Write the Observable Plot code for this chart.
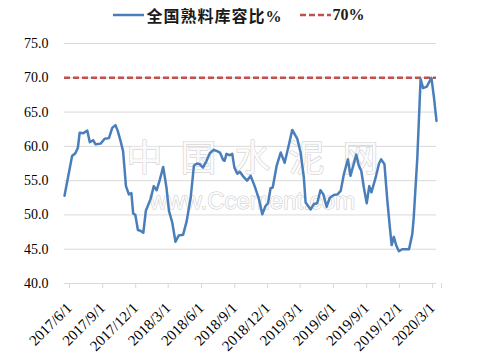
<!DOCTYPE html>
<html><head><meta charset="utf-8">
<script src="https://cdn.jsdelivr.net/npm/d3@7"></script>
<script src="https://cdn.jsdelivr.net/npm/@observablehq/plot@0.6"></script>
<style>
html,body{margin:0;padding:0;background:#fff;}
#legend{height:30px;display:flex;justify-content:center;align-items:center;font:bold 16px "Liberation Serif","Noto Sans CJK SC",serif;color:#1a1a1a;}
.item{display:flex;align-items:center;}
.item svg{margin-right:2px;}
.cn{letter-spacing:1px;}
.gap{width:17px;}
</style></head>
<body>
<div id="legend"></div>
<div id="chart"></div>
<script>
const seriesName = "全国熟料库容比%";
const refName = "70%";
const refValue = 70;
const dates = [
"2017-06-01","2017-06-22","2017-07-01","2017-07-08","2017-07-13","2017-07-23","2017-08-03","2017-08-10","2017-08-19","2017-08-26",
"2017-09-09","2017-09-20","2017-10-02","2017-10-11","2017-10-20","2017-10-26","2017-11-03","2017-11-10","2017-11-18","2017-11-26",
"2017-12-03","2017-12-08","2017-12-14","2017-12-21","2017-12-28","2018-01-05","2018-01-12","2018-01-25","2018-02-03","2018-02-11",
"2018-02-20","2018-03-01","2018-03-10","2018-03-17","2018-03-26","2018-04-04","2018-04-13","2018-04-25","2018-05-05","2018-05-16",
"2018-05-25","2018-06-03","2018-06-10","2018-06-19","2018-06-29","2018-07-08","2018-07-19","2018-07-28","2018-08-05","2018-08-14",
"2018-08-18","2018-08-23","2018-09-01","2018-09-08","2018-09-14","2018-09-22","2018-09-29","2018-10-10","2018-10-19","2018-10-29",
"2018-11-09","2018-11-21","2018-11-30","2018-12-09","2018-12-16","2018-12-23","2018-12-29","2019-01-09","2019-01-20","2019-01-31",
"2019-02-12","2019-02-21","2019-03-07","2019-03-16","2019-03-25","2019-03-30","2019-04-13","2019-04-22","2019-05-01","2019-05-10",
"2019-05-18","2019-05-27","2019-06-05","2019-06-16","2019-06-26","2019-07-05","2019-07-14","2019-07-25","2019-08-01","2019-08-17",
"2019-08-24","2019-08-31","2019-09-07","2019-09-15","2019-09-22","2019-09-28","2019-10-10","2019-10-19","2019-10-25","2019-11-03",
"2019-11-11","2019-11-18","2019-11-23","2019-11-29","2019-12-06","2019-12-13","2019-12-22","2020-01-01","2020-01-10","2020-01-19",
"2020-01-23","2020-02-02","2020-02-11","2020-02-18","2020-02-28","2020-03-05","2020-03-12","2020-03-19","2020-03-26"
];
const values = [
52.8,58.6,59.0,59.8,62.0,61.9,62.3,60.6,60.9,60.3,
60.4,61.1,61.2,62.7,63.1,62.3,60.8,59.3,54.2,53.0,
53.2,50.2,50.0,47.8,47.7,47.4,50.6,52.3,54.2,53.6,
55.2,57.0,54.0,50.6,48.9,46.1,47.0,47.1,49.1,52.5,
57.2,57.5,57.4,56.9,57.9,59.0,59.5,59.3,59.1,58.0,
57.9,58.9,58.7,58.9,56.9,56.0,56.3,55.5,55.0,55.7,
54.2,52.3,50.1,51.3,51.7,53.9,54.0,57.2,59.1,57.6,
60.3,62.4,61.1,59.1,55.5,51.8,50.8,51.6,51.7,53.6,
53.0,51.2,52.5,52.9,53.0,53.5,56.0,58.1,55.7,58.8,
57.2,56.4,54.0,51.7,54.2,53.3,55.5,57.5,58.1,57.4,
52.1,48.2,45.6,46.8,45.5,44.7,45.0,45.0,45.0,47.2,
49.6,58.4,69.8,68.5,68.7,69.3,70.0,67.1,63.7
];
const yTicks = [40,45,50,55,60,65,70,75];
const xTickDates = ["2017-06-01","2017-09-01","2017-12-01","2018-03-01","2018-06-01","2018-09-01","2018-12-01","2019-03-01","2019-06-01","2019-09-01","2019-12-01","2020-03-01"];
const xStart = "2017-06-01", xEnd = "2020-03-26";
const watermarkCN = "中\u2002国\u2002水\u2002泥\u2002网";
const watermarkEN = "www.Ccement.com";

const blue = "#4a7ebb", red = "#c0504d", grid = "#d9d9d9";
const parse = d3.utcParse("%Y-%m-%d");
const fmt = d3.utcFormat("%Y/%-m/%-d");
const data = dates.map((d, i) => ({date: parse(d), value: values[i]}));
const endDate = parse(xEnd);
const tickList = xTickDates.map(parse).concat([endDate]);

document.getElementById("legend").innerHTML =
  `<div class="item"><svg width="31" height="10"><line x1="0" x2="31" y1="5" y2="5" stroke="${blue}" stroke-width="2.5"/></svg><span class="cn">${seriesName}</span></div>` +
  `<div class="gap"></div>` +
  `<div class="item"><svg width="31" height="10"><line x1="0" x2="31" y1="5" y2="5" stroke="${red}" stroke-width="2.5" stroke-dasharray="6,3"/></svg><span>${refName}</span></div>`;

const chart = Plot.plot({
  width: 478, height: 330,
  marginTop: 13, marginBottom: 77, marginLeft: 64, marginRight: 42,
  style: {fontFamily: '"Liberation Serif", serif', fontSize: "14px", color: "#000", background: "#fff"},
  x: {type: "utc", domain: [parse(xStart), endDate]},
  y: {domain: [40, 75]},
  marks: [
    Plot.ruleY(yTicks, {stroke: grid, strokeWidth: 1}),
    Plot.text([watermarkCN], {ariaLabel: "wm-cn", frameAnchor: "middle", dx: 2, dy: -4, fontSize: 36, fontFamily: '"Noto Sans CJK SC", sans-serif', fill: "#fbfbfb", stroke: "#c8c8c8", strokeWidth: 1}),
    Plot.text([watermarkEN], {ariaLabel: "wm-en", frameAnchor: "middle", dx: 2, dy: 38, fontSize: 24, fontFamily: '"Liberation Sans", sans-serif', fill: "#fbfbfb", stroke: "#c8c8c8", strokeWidth: 1}),
    Plot.axisY({ticks: yTicks, tickSize: 0, tickPadding: 16, tickFormat: d => d.toFixed(1), fontSize: 14, label: null}),
    Plot.axisX({ticks: tickList, tickSize: 5, tickPadding: 17, dx: 5, tickRotate: -45, stroke: grid, tickFormat: d => +d === +endDate ? "" : fmt(d), fontSize: 15, label: null}),
    Plot.ruleY([refValue], {stroke: red, strokeWidth: 2.5, strokeDasharray: "6,3"}),
    Plot.lineY(data, {x: "date", y: "value", stroke: blue, strokeWidth: 2.5})
  ]
});
// stretch watermark vertically around its own anchor point
function stretch(label, sy) {
  d3.select(chart).selectAll(`g[aria-label="${label}"] text`).each(function() {
    const t = d3.select(this);
    const base = t.attr("transform") || "";
    const x = +(t.attr("x") || 0), y = +(t.attr("y") || 0);
    t.attr("transform", `${base} translate(${x},${y}) scale(1,${sy}) translate(${-x},${-y})`);
  });
}
stretch("wm-cn", 1.35);
stretch("wm-en", 1.2);
document.getElementById("chart").appendChild(chart);
</script>
</body></html>
